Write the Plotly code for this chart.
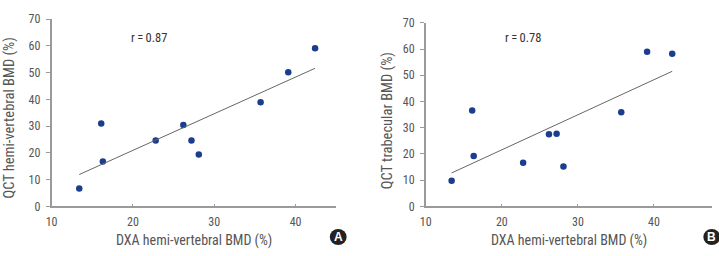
import numpy as np
import plotly.graph_objects as go

# Data
dxa = [13.4, 16.1, 16.3, 22.8, 26.2, 27.2, 28.1, 35.7, 39.1, 42.4]
qct_hemi = [6.7, 31.0, 16.8, 24.6, 30.4, 24.6, 19.4, 38.9, 50.1, 59.1]
qct_trab = [9.8, 36.6, 19.2, 16.7, 27.5, 27.7, 15.2, 35.9, 59.0, 58.2]
r_labels = ["r\u2009=\u20090.87", "r\u2009=\u20090.78"]
panel_labels = ["A", "B"]
x_title = "DXA hemi-vertebral BMD (%)"
y_titles = ["QCT hemi-vertebral BMD (%)", "QCT trabecular BMD (%)"]
y_ticks = [0, 10, 20, 30, 40, 50, 60, 70]
x_ticks = [10, 20, 30, 40]

W, H = 719, 256
FONT = "Liberation Sans Narrow, Roboto Condensed, DejaVu Sans Condensed, Arial Narrow, sans-serif"
MARK = "#1b3d8f"
AX = "#9a9a9a"
TXT = "#555555"

fig = go.Figure()

panels = [
    dict(y=qct_hemi, xd=[46 / W, 333 / W], yd=[(H - 211) / H, (H - 12.7) / H], xr=[10, 45]),
    dict(y=qct_trab, xd=[423.3 / W, 711.7 / W], yd=[(H - 211) / H, (H - 16.7) / H], xr=[10, 47.6]),
]

layout = dict(
    width=W, height=H, margin=dict(l=0, r=0, t=0, b=0),
    paper_bgcolor="white", plot_bgcolor="white", showlegend=False,
    font=dict(family=FONT, color=TXT, size=11),
)
annotations = []
shapes = []

for i, p in enumerate(panels):
    sx = "" if i == 0 else str(i + 1)
    xa, ya = "x" + sx, "y" + sx
    fig.add_trace(go.Scatter(x=dxa, y=p["y"], mode="markers", xaxis=xa, yaxis=ya,
                             marker=dict(color=MARK, size=6.5)))
    slope, inter = np.polyfit(dxa, p["y"], 1)
    xl = np.array([min(dxa), max(dxa)])
    fig.add_trace(go.Scatter(x=xl, y=slope * xl + inter, mode="lines", xaxis=xa, yaxis=ya,
                             line=dict(color="#666666", width=1)))
    layout["xaxis" + sx] = dict(domain=p["xd"], range=p["xr"], anchor=ya, tickvals=x_ticks,
                                showgrid=False, zeroline=False, showline=True, linecolor=AX,
                                linewidth=1.5, ticks="inside", ticklen=3, tickcolor=AX,
                                ticklabelstandoff=3,
                                tickfont=dict(size=12, color=TXT))
    layout["yaxis" + sx] = dict(domain=p["yd"], range=[0, 70], anchor=xa, tickvals=y_ticks,
                                showgrid=False, zeroline=False, showline=True, linecolor=AX,
                                linewidth=1.5, ticks="outside", ticklen=4, tickcolor=AX,
                                ticklabelstandoff=3,
                                tickfont=dict(size=12, color=TXT))
    xc = (p["xd"][0] + p["xd"][1]) / 2
    annotations.append(dict(text=x_title, xref="paper", yref="paper", x=xc, y=(H - 247.5) / H,
                            xanchor="center", yanchor="middle", showarrow=False,
                            font=dict(size=14, color=TXT)))
    ytx = [4 / W, 385 / W][i]
    yty = [(H - 117) / H, (H - 120) / H][i]
    annotations.append(dict(text=y_titles[i], xref="paper", yref="paper", x=ytx, y=yty,
                            textangle=-90, xanchor="center", yanchor="middle", showarrow=False,
                            font=dict(size=14.5, color=TXT)))
    rx = [144 / W, 521.7 / W][i]
    annotations.append(dict(text=r_labels[i], xref="paper", yref="paper", x=rx, y=(H - 32) / H,
                            xanchor="center", yanchor="middle", showarrow=False,
                            font=dict(size=12.5, color="#333333")))
    cx = [335, 711.7][i]
    cy = 243.3
    rad = 8.5
    shapes.append(dict(type="circle", xref="paper", yref="paper",
                       x0=(cx - rad) / W, x1=(cx + rad) / W, y0=(H - cy - rad) / H, y1=(H - cy + rad) / H,
                       fillcolor="#222222", line=dict(width=0)))
    annotations.append(dict(text="<b>" + panel_labels[i] + "</b>", xref="paper", yref="paper",
                            x=cx / W, y=(H - cy) / H, xanchor="center", yanchor="middle",
                            showarrow=False, font=dict(size=12, color="white",
                                                        family="Liberation Sans, Arial, sans-serif")))

layout["annotations"] = annotations
layout["shapes"] = shapes
fig.update_layout(**layout)
fig.write_html("out.html")
